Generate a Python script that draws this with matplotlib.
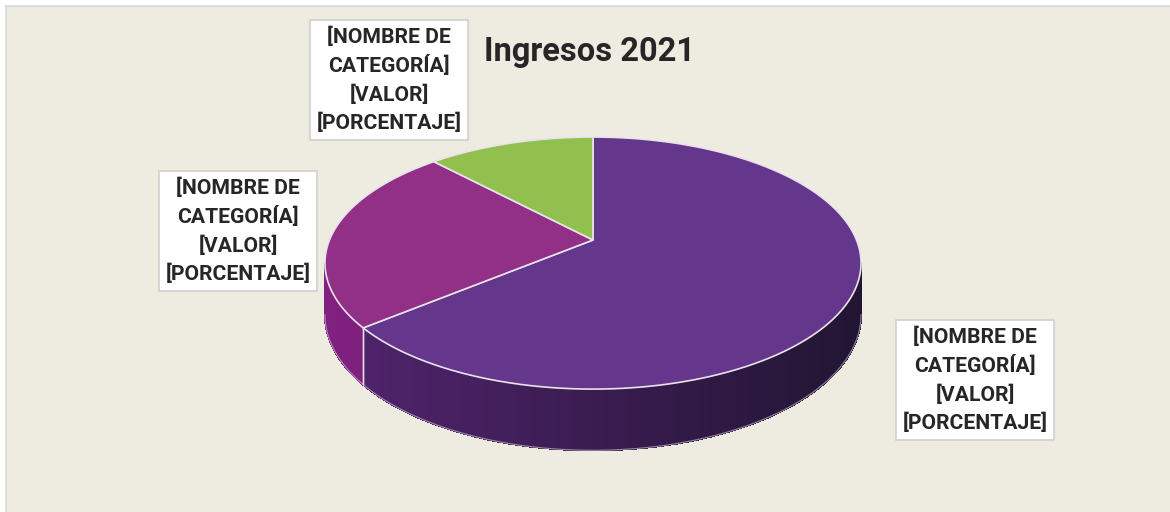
import matplotlib.pyplot as plt
import numpy as np
from matplotlib.patches import Polygon, Rectangle
from matplotlib.colors import to_rgb

# data
categorias = ["A", "B", "C"]
valores = [64, 24, 12]
color_top = ["#65378C", "#922F86", "#92C04F"]
color_side_left = ["#52246F", "#80207F", "#7AA83F"]
color_side_right = ["#221533", "#6A1A68", "#5E8A2E"]
etiqueta = "[NOMBRE DE\nCATEGORÍA]\n[VALOR]\n[PORCENTAJE]"
etiqueta_pos = [(975, 380), (238, 231), (389, 80)]

# geometry of the 3d pie (pixels)
cx, cy = 593, 240
A, B, k = 121.8, 263.5, 0.183
D = 50


def proj(t, h=0.0):
    u, v = np.cos(t), np.sin(t)
    s = 1.0 / (1.0 + k * v)
    return cx + B * u * s, cy - A * v * s + h * D * s


fig = plt.figure(figsize=(11.7, 5.12), dpi=100)
fig.patch.set_facecolor("white")
ax = fig.add_axes([0, 0, 1, 1])
ax.set_xlim(0, 1170)
ax.set_ylim(512, 0)
ax.axis("off")

ax.add_patch(Rectangle((6, 6), 1180, 520, facecolor="#EEEBE1",
                       edgecolor="#D9D9D9", lw=1.2, zorder=0))

# angles: start at 12 o'clock, go clockwise
frac = np.array(valores) / sum(valores)
bordes = np.pi / 2 - 2 * np.pi * np.concatenate([[0], np.cumsum(frac)])

# visible front side range
vis_a = np.pi + np.arcsin(k)
vis_b = 2 * np.pi - np.arcsin(k)

xmin_side, xmax_side = proj(vis_a)[0], proj(vis_b)[0]

for i in range(len(valores)):
    t_hi, t_lo = bordes[i], bordes[i + 1]
    for off in (0, 2 * np.pi, -2 * np.pi, 4 * np.pi):
        a, b = t_lo + off, t_hi + off
        lo, hi = max(a, vis_a), min(b, vis_b)
        if hi <= lo:
            continue
        ts = np.linspace(lo, hi, 120)
        c1, c2 = np.array(to_rgb(color_side_left[i])), np.array(to_rgb(color_side_right[i]))
        for t1, t2 in zip(ts[:-1], ts[1:]):
            x1, y1 = proj(t1)
            x2, y2 = proj(t2)
            x3, y3 = proj(t2, 1)
            x4, y4 = proj(t1, 1)
            f = ((x1 + x2) / 2 - xmin_side) / (xmax_side - xmin_side)
            f = min(max(f, 0), 1)
            col = c1 * (1 - f) + c2 * f
            ax.add_patch(Polygon([(x1, y1), (x2, y2), (x3, y3), (x4, y4)],
                                 closed=True, facecolor=col, edgecolor=col,
                                 lw=0.8, antialiased=False, zorder=2))
        bx, by = proj(ts, 1)
        ax.plot(bx, by, color="#D8D0DC", lw=0.8, alpha=0.6, zorder=3)
        for tb in (a, b):
            if vis_a < tb < vis_b:
                xa, ya = proj(tb)
                xb, yb = proj(tb, 1)
                ax.plot([xa, xb], [ya, yb], color="#E6DDE8", lw=1.0, zorder=3)

# top faces
for i in range(len(valores)):
    ts = np.linspace(bordes[i], bordes[i + 1], 300)
    xs, ys = proj(ts)
    pts = [(cx, cy)] + list(zip(xs, ys))
    ax.add_patch(Polygon(pts, closed=True, facecolor=color_top[i],
                         edgecolor="#E9E3EC", lw=1.2, zorder=4))

# labels
for (x, y) in etiqueta_pos:
    ax.text(x, y, etiqueta, ha="center", va="center", fontsize=15.2,
            fontweight="bold", family="Roboto", color="#262626",
            linespacing=1.5, zorder=6,
            bbox=dict(boxstyle="square,pad=0.3", facecolor="white",
                      edgecolor="#D0D0D0", lw=1.2))

ax.text(590, 52, "Ingresos 2021", ha="center", va="center", fontsize=23.5,
        fontweight="bold", family="Roboto", color="#262626", zorder=6)

fig.savefig("out.png", dpi=100, facecolor=fig.get_facecolor())
